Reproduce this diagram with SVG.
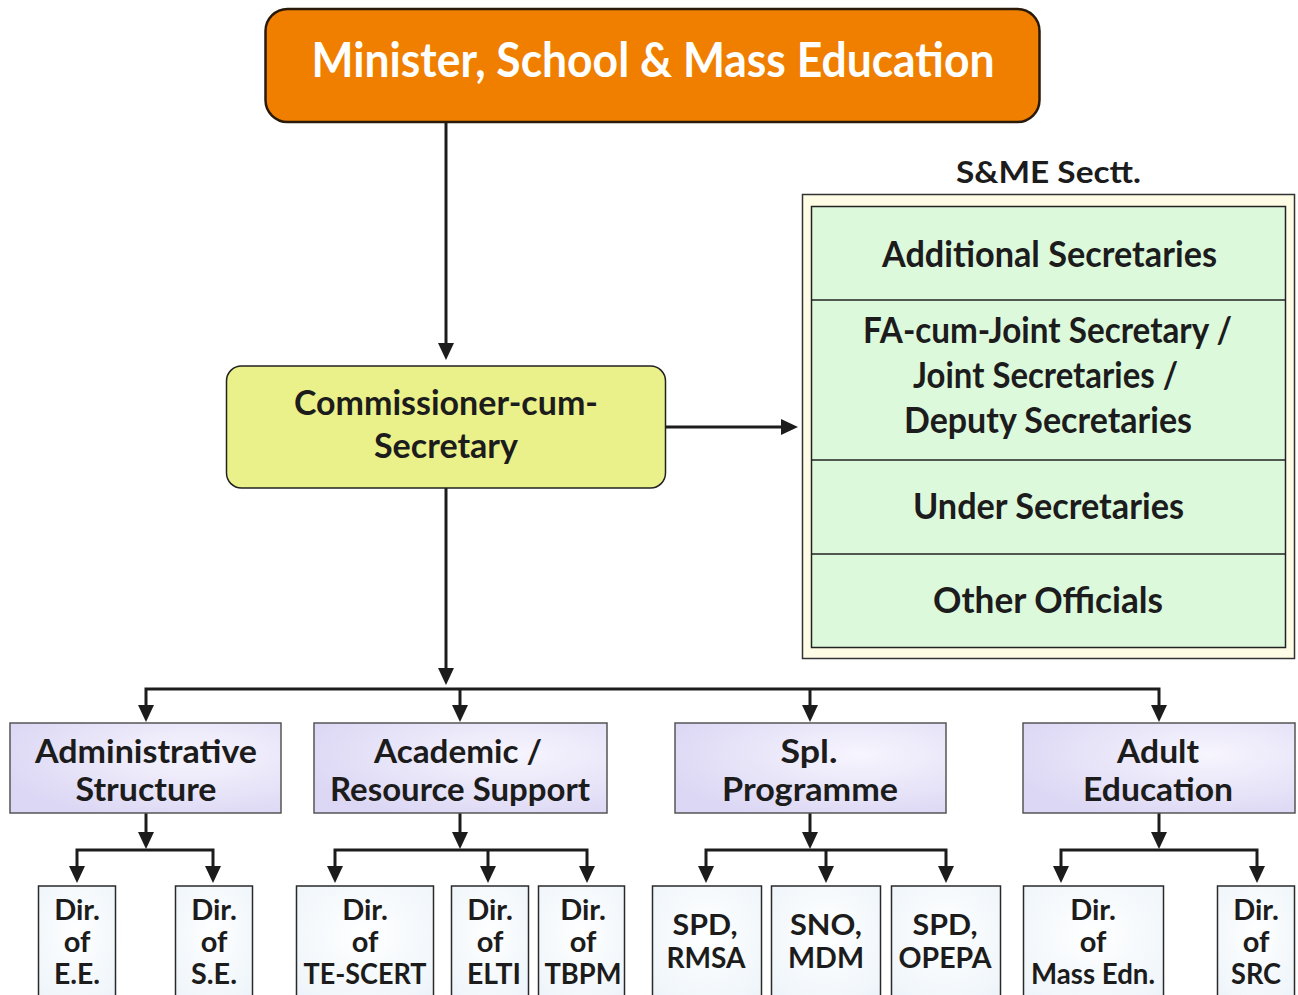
<svg xmlns="http://www.w3.org/2000/svg" width="1298" height="995" viewBox="0 0 1298 995">
<style>
  text { font-family: "Lato", "Liberation Sans", sans-serif; font-weight: 700; fill: #1c1c1c; text-anchor: middle; }
  .t47 { font-size: 47px; fill: #ffffff; }
  .t35 { font-size: 35px; }
  .t36 { font-size: 36px; }
  .t31 { font-size: 31px; }
  .t33 { font-size: 33px; }
  .t29 { font-size: 29px; }
  .t28 { font-size: 28px; }
  .cat { fill: url(#gCat); stroke: #555555; stroke-width: 1.5; }
  .bot { fill: url(#gBot); stroke: #2a2a2a; stroke-width: 1.5; }
  .ln { fill: none; stroke: #1c1c1c; stroke-width: 3; stroke-linejoin: miter; }
  .ar { marker-end: url(#ah); }
  .ar2 { marker-start: url(#ahs); marker-end: url(#ah); }
</style>
<defs>
  <marker id="ah" markerUnits="userSpaceOnUse" markerWidth="17" markerHeight="16" viewBox="0 0 17 16" refX="7" refY="8" orient="auto">
    <path d="M0,0 L17,8 L0,16 Z" fill="#1c1c1c"/>
  </marker>
  <marker id="ahs" markerUnits="userSpaceOnUse" markerWidth="17" markerHeight="16" viewBox="0 0 17 16" refX="7" refY="8" orient="auto-start-reverse">
    <path d="M0,0 L17,8 L0,16 Z" fill="#1c1c1c"/>
  </marker>
  <radialGradient id="gCat" cx="0.68" cy="0.35" r="0.75">
    <stop offset="0" stop-color="#F7F5FE"/>
    <stop offset="1" stop-color="#DCD7F4"/>
  </radialGradient>
  <radialGradient id="gBot" cx="0.5" cy="0.4" r="0.8">
    <stop offset="0" stop-color="#FFFFFF"/>
    <stop offset="1" stop-color="#EBF3F9"/>
  </radialGradient>
</defs>

<rect width="1298" height="995" fill="#ffffff"/>

<g id="connectors">
  <path class="ln ar" d="M446,123 V350" stroke-width="2.5"/>
  <path class="ln ar" d="M666,427 H788"/>
  <path class="ln ar" d="M446,488 V675"/>
  <path class="ln ar2" d="M146,712 V689 H1159 V712"/>
  <path class="ln ar" d="M460,689 V712"/>
  <path class="ln ar" d="M810,689 V712"/>

  <path class="ln ar" d="M146,813 V839"/>
  <path class="ln ar2" d="M77,873 V850 H213 V873"/>

  <path class="ln ar" d="M460,813 V839"/>
  <path class="ln ar2" d="M335,873 V850 H587 V873"/>
  <path class="ln ar" d="M488,850 V873"/>

  <path class="ln ar" d="M810,813 V839"/>
  <path class="ln ar2" d="M706,873 V850 H946 V873"/>
  <path class="ln ar" d="M826,850 V873"/>

  <path class="ln ar" d="M1159,813 V839"/>
  <path class="ln ar2" d="M1061,873 V850 H1257 V873"/>
</g>

<g id="minister">
  <rect x="265.5" y="9" width="774" height="113" rx="22" fill="#F07F00" stroke="#2a1a0a" stroke-width="2.5"/>
  <text class="t47" x="653" y="77" textLength="683" lengthAdjust="spacingAndGlyphs">Minister, School &amp; Mass Education</text>
</g>

<g id="commissioner">
  <rect x="226.5" y="366" width="439" height="122" rx="15" fill="#EAF08A" stroke="#222222" stroke-width="1.5"/>
  <text class="t35" x="446" y="415" textLength="304" lengthAdjust="spacingAndGlyphs">Commissioner-cum-</text>
  <text class="t35" x="446" y="458" textLength="144" lengthAdjust="spacingAndGlyphs">Secretary</text>
</g>

<g id="secretariat">
  <text class="t31" x="1048.5" y="183" textLength="185" lengthAdjust="spacingAndGlyphs">S&amp;ME Sectt.</text>
  <rect x="802.5" y="194.5" width="492" height="464" fill="#FFFCE6" stroke="#333333" stroke-width="1.5"/>
  <rect x="811.5" y="206.5" width="474" height="441" fill="#DDF9DC" stroke="#222222" stroke-width="1.5"/>
  <line x1="811.5" y1="300" x2="1285.5" y2="300" stroke="#222222" stroke-width="1.5"/>
  <line x1="811.5" y1="460" x2="1285.5" y2="460" stroke="#222222" stroke-width="1.5"/>
  <line x1="811.5" y1="554" x2="1285.5" y2="554" stroke="#222222" stroke-width="1.5"/>
  <text class="t36" x="1049.5" y="267" textLength="335" lengthAdjust="spacingAndGlyphs">Additional Secretaries</text>
  <text class="t36" x="1047.5" y="343" textLength="369" lengthAdjust="spacingAndGlyphs">FA-cum-Joint Secretary /</text>
  <text class="t36" x="1045.5" y="388" textLength="265" lengthAdjust="spacingAndGlyphs">Joint Secretaries /</text>
  <text class="t36" x="1048" y="433" textLength="288" lengthAdjust="spacingAndGlyphs">Deputy Secretaries</text>
  <text class="t36" x="1048.5" y="519" textLength="271" lengthAdjust="spacingAndGlyphs">Under Secretaries</text>
  <text class="t36" x="1048" y="613" textLength="230" lengthAdjust="spacingAndGlyphs">Other Officials</text>
</g>

<g id="admin">
  <rect class="cat" x="10" y="723" width="271" height="90"/>
  <text class="t33" x="146" y="763" textLength="222" lengthAdjust="spacingAndGlyphs">Administrative</text>
  <text class="t33" x="146" y="801" textLength="141" lengthAdjust="spacingAndGlyphs">Structure</text>
</g>
<g id="academic">
  <rect class="cat" x="314" y="723" width="293" height="90"/>
  <text class="t33" x="458" y="763" textLength="168" lengthAdjust="spacingAndGlyphs">Academic /</text>
  <text class="t33" x="460" y="801" textLength="260" lengthAdjust="spacingAndGlyphs">Resource Support</text>
</g>
<g id="spl">
  <rect class="cat" x="675" y="723" width="271" height="90"/>
  <text class="t33" x="809" y="763" textLength="57" lengthAdjust="spacingAndGlyphs">Spl.</text>
  <text class="t33" x="810" y="801" textLength="176" lengthAdjust="spacingAndGlyphs">Programme</text>
</g>
<g id="adult">
  <rect class="cat" x="1023" y="723" width="272" height="90"/>
  <text class="t33" x="1158" y="763" textLength="82" lengthAdjust="spacingAndGlyphs">Adult</text>
  <text class="t33" x="1158" y="801" textLength="150" lengthAdjust="spacingAndGlyphs">Education</text>
</g>

<g id="dir-ee">
  <rect class="bot" x="38.5" y="886" width="77" height="120"/>
  <text class="t29" x="77" y="920">Dir.</text>
  <text class="t29" x="77" y="952">of</text>
  <text class="t29" x="77" y="984" textLength="46" lengthAdjust="spacingAndGlyphs">E.E.</text>
</g>
<g id="dir-se">
  <rect class="bot" x="175.5" y="886" width="77" height="120"/>
  <text class="t29" x="214" y="920">Dir.</text>
  <text class="t29" x="214" y="952">of</text>
  <text class="t29" x="214" y="984" textLength="46" lengthAdjust="spacingAndGlyphs">S.E.</text>
</g>
<g id="dir-tescert">
  <rect class="bot" x="296.5" y="886" width="137" height="120"/>
  <text class="t29" x="365" y="920">Dir.</text>
  <text class="t29" x="365" y="952">of</text>
  <text class="t29" x="365" y="984" textLength="123" lengthAdjust="spacingAndGlyphs">TE-SCERT</text>
</g>
<g id="dir-elti">
  <rect class="bot" x="451.5" y="886" width="77" height="120"/>
  <text class="t29" x="490" y="920">Dir.</text>
  <text class="t29" x="490" y="952">of</text>
  <text class="t29" x="494" y="984" textLength="54" lengthAdjust="spacingAndGlyphs">ELTI</text>
</g>
<g id="dir-tbpm">
  <rect class="bot" x="538.5" y="886" width="86" height="120"/>
  <text class="t29" x="583" y="920">Dir.</text>
  <text class="t29" x="583" y="952">of</text>
  <text class="t29" x="583" y="984" textLength="77" lengthAdjust="spacingAndGlyphs">TBPM</text>
</g>
<g id="spd-rmsa">
  <rect class="bot" x="652.5" y="886" width="109" height="120"/>
  <text class="t28" x="705" y="935" textLength="65" lengthAdjust="spacingAndGlyphs">SPD,</text>
  <text class="t28" x="706" y="968" textLength="79" lengthAdjust="spacingAndGlyphs">RMSA</text>
</g>
<g id="sno-mdm">
  <rect class="bot" x="771.5" y="886" width="109" height="120"/>
  <text class="t28" x="826" y="935" textLength="72" lengthAdjust="spacingAndGlyphs">SNO,</text>
  <text class="t28" x="826" y="968" textLength="76" lengthAdjust="spacingAndGlyphs">MDM</text>
</g>
<g id="spd-opepa">
  <rect class="bot" x="891.5" y="886" width="109" height="120"/>
  <text class="t28" x="945" y="935" textLength="65" lengthAdjust="spacingAndGlyphs">SPD,</text>
  <text class="t28" x="945" y="968" textLength="93" lengthAdjust="spacingAndGlyphs">OPEPA</text>
</g>
<g id="dir-massedn">
  <rect class="bot" x="1023.5" y="886" width="140" height="120"/>
  <text class="t29" x="1093" y="920">Dir.</text>
  <text class="t29" x="1093" y="952">of</text>
  <text class="t29" x="1093" y="984" textLength="124" lengthAdjust="spacingAndGlyphs">Mass Edn.</text>
</g>
<g id="dir-src">
  <rect class="bot" x="1217.5" y="886" width="77" height="120"/>
  <text class="t29" x="1256" y="920">Dir.</text>
  <text class="t29" x="1256" y="952">of</text>
  <text class="t29" x="1256" y="984" textLength="50" lengthAdjust="spacingAndGlyphs">SRC</text>
</g>
</svg>
